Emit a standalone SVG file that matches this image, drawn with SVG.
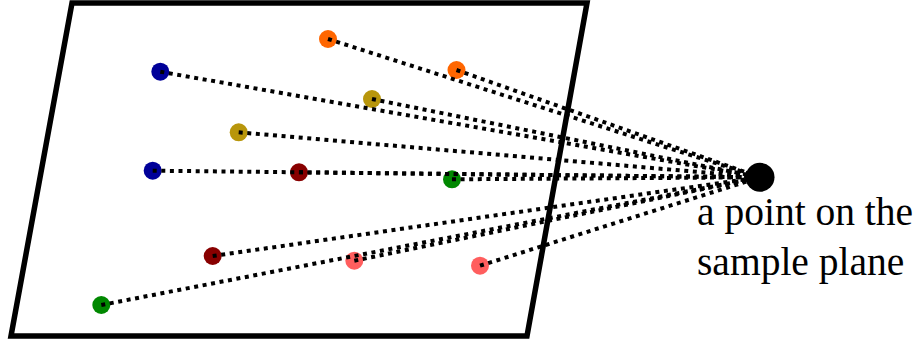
<svg xmlns="http://www.w3.org/2000/svg" width="918" height="347" viewBox="0 0 918 347">
<style>
.plane{fill:#fff;stroke:#000;stroke-width:5.5;stroke-linejoin:miter}
.ray{stroke:#000;stroke-width:4;stroke-dasharray:4 4.6;fill:none}
.lbl{font-family:"Liberation Serif","Times New Roman",serif;font-size:39.5px;fill:#000}
</style>
<rect width="918" height="347" fill="#fff"/>
<g id="plane"><polygon class="plane" points="72,3 587,3 527,336 11,336"/></g>
<g id="dots">
<circle id="orange1" cx="328" cy="39" r="9" fill="#ff6600"/>
<circle id="orange2" cx="456.5" cy="70" r="9" fill="#ff6600"/>
<circle id="navy1" cx="160.3" cy="71.7" r="9" fill="#000099"/>
<circle id="navy2" cx="152.7" cy="170.7" r="9" fill="#000099"/>
<circle id="olive1" cx="238.7" cy="132.3" r="9" fill="#b8960b"/>
<circle id="olive2" cx="372" cy="99" r="9" fill="#b8960b"/>
<circle id="darkred1" cx="299" cy="172.3" r="9" fill="#880000"/>
<circle id="darkred2" cx="212.7" cy="256" r="9" fill="#880000"/>
<circle id="green1" cx="452" cy="179.3" r="9" fill="#008800"/>
<circle id="green2" cx="101.3" cy="305" r="9" fill="#008800"/>
<circle id="pink1" cx="354.3" cy="260.7" r="9" fill="#ff5e5e"/>
<circle id="pink2" cx="480" cy="265.7" r="9" fill="#ff5e5e"/>
</g>
<g id="connectors">
<line class="ray" x1="328" y1="39" x2="760" y2="177.3"/>
<line class="ray" x1="456.5" y1="70" x2="760" y2="177.3"/>
<line class="ray" x1="160.3" y1="71.7" x2="760" y2="177.3"/>
<line class="ray" x1="152.7" y1="170.7" x2="760" y2="177.3"/>
<line class="ray" x1="238.7" y1="132.3" x2="760" y2="177.3"/>
<line class="ray" x1="372" y1="99" x2="760" y2="177.3"/>
<line class="ray" x1="299" y1="172.3" x2="760" y2="177.3"/>
<line class="ray" x1="212.7" y1="256" x2="760" y2="177.3"/>
<line class="ray" x1="452" y1="179.3" x2="760" y2="177.3"/>
<line class="ray" x1="101.3" y1="305" x2="760" y2="177.3"/>
<line class="ray" x1="354.3" y1="260.7" x2="760" y2="177.3"/>
<line class="ray" x1="480" y1="265.7" x2="760" y2="177.3"/>
</g>
<g id="samplepoint">
<circle cx="760" cy="177.3" r="14.5" fill="#000"/>
<text class="lbl" x="697" y="225">a point on the</text>
<text class="lbl" x="697" y="275">sample plane</text>
</g>
</svg>
